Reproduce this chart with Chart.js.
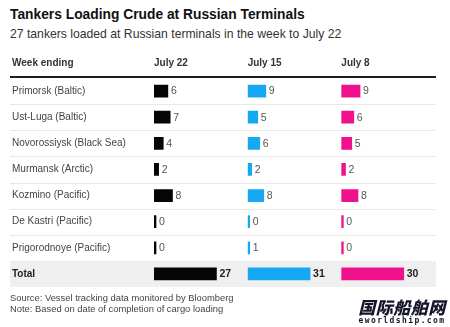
<!DOCTYPE html>
<html>
<head>
<meta charset="utf-8">
<script src="https://cdn.jsdelivr.net/npm/chart.js@4/dist/chart.umd.min.js"></script>
<style>
  html, body { margin: 0; padding: 0; background: #fff; }
  body { width: 450px; height: 327px; position: relative; overflow: hidden;
         font-family: 'Liberation Sans', Arial, sans-serif; }
  .title { position: absolute; left: 10px; top: 7px; font-size: 13.8px; font-weight: bold; color: #111; }
  .subtitle { position: absolute; left: 10px; top: 27px; font-size: 12.2px; color: #333; }
  .wrap { position: absolute; left: 0; top: 44px; width: 450px; height: 249px; }
  .foot { position: absolute; left: 10px; top: 293px; font-size: 9.4px; line-height: 10.5px; color: #444; }
  .mark { position: absolute; left: 356px; top: 297px; width: 92px; text-align: center; color: #14142a; }
  .mark .cn { font-family: 'Noto Sans CJK SC', sans-serif; font-weight: 900; font-size: 17px; line-height: 19px; letter-spacing: 0.5px; font-style: italic; }
  .mark .en { font-family: 'DejaVu Sans Mono', monospace; font-weight: bold; font-size: 8px; line-height: 9px; letter-spacing: 1.4px; }
</style>
</head>
<body>
<div class="title">Tankers Loading Crude at Russian Terminals</div>
<div class="subtitle">27 tankers loaded at Russian terminals in the week to July 22</div>
<div class="wrap"><canvas id="chartTankers"></canvas></div>
<div class="foot">Source: Vessel tracking data monitored by Bloomberg<br>Note: Based on date of completion of cargo loading</div>
<div class="mark"><div class="cn">国际船舶网</div><div class="en">eworldship.com</div></div>

<script>
// ===== データ =====
const terminals = ['Primorsk (Baltic)', 'Ust-Luga (Baltic)', 'Novorossiysk (Black Sea)', 'Murmansk (Arctic)',
                   'Kozmino (Pacific)', 'De Kastri (Pacific)', 'Prigorodnoye (Pacific)', 'Total'];
const weeks = ['July 22', 'July 15', 'July 8'];
const jul22 = [6, 7, 4, 2, 8, 0, 0, 27];
const jul15 = [9, 5, 6, 2, 8, 0, 1, 31];
const jul8  = [9, 6, 5, 2, 8, 0, 0, 30];

const COLORS = ['#050505', '#16a9f2', '#f0128c'];
const FONT = "'Liberation Sans', Arial, sans-serif";
const TOTAL_ROW = terminals.length - 1;

// 行の区切り線・Total 行の背景・ヘッダー下の太線（軸ラベルより先に描く）
const tableLines = {
  id: 'tableLines',
  beforeDraw(chart) {
    const { ctx, chartArea, scales: { y } } = chart;
    const left = 10, right = 436;
    const half = (y.getPixelForValue(1) - y.getPixelForValue(0)) / 2;
    ctx.save();
    // Total 行
    const ty = y.getPixelForValue(TOTAL_ROW);
    ctx.fillStyle = '#efefef';
    ctx.fillRect(left, ty - half, right - left, half * 2);
    // 区切り線
    ctx.strokeStyle = '#e8e8e8';
    ctx.lineWidth = 1;
    for (let i = 0; i < TOTAL_ROW - 1; i++) {
      const py = Math.round(y.getPixelForValue(i) + half) + 0.5;
      ctx.beginPath();
      ctx.moveTo(left, py);
      ctx.lineTo(right, py);
      ctx.stroke();
    }
    // ヘッダー線
    ctx.fillStyle = '#1e1e1e';
    ctx.fillRect(left, chartArea.top - 2, right - left, 2);
    // 見出し
    ctx.font = 'bold 10px ' + FONT;
    ctx.fillStyle = '#333';
    ctx.textBaseline = 'middle';
    ctx.textAlign = 'left';
    ctx.fillText('Week ending', 12, chart.scales.x0.top + 19);
    ctx.restore();
  }
};

// 棒の右に数値
const valueLabels = {
  id: 'valueLabels',
  afterDatasetsDraw(chart) {
    const { ctx } = chart;
    ctx.save();
    ctx.textBaseline = 'middle';
    ctx.textAlign = 'left';
    chart.data.datasets.forEach((ds, di) => {
      chart.getDatasetMeta(di).data.forEach((bar, i) => {
        const isTotal = i === TOTAL_ROW;
        ctx.font = (isTotal ? 'bold ' : '') + '10.5px ' + FONT;
        ctx.fillStyle = isTotal ? '#222' : '#555';
        ctx.fillText(ds.data[i], bar.x + 3, bar.y + 0.5);
      });
    });
    ctx.restore();
  }
};

// 週ごとに独立した横軸（上端に左から並べる）
function weekAxis(i, series) {
  return {
    type: 'linear',
    position: 'top',
    stack: 'weeks',
    stackWeight: 1,
    weight: weeks.length - i,
    min: 0,
    max: Math.max(...series) * 1.5,
    grid: { display: false, drawTicks: false },
    border: { display: false },
    ticks: { display: false },
    title: {
      display: true,
      text: weeks[i],
      align: 'start',
      color: '#333',
      font: { family: FONT, size: 10, weight: 'bold' },
      padding: { top: 13, bottom: 9 }
    },
    afterFit: s => { s.height = 34; }
  };
}

const series = [jul22, jul15, jul8];

new Chart(document.getElementById('chartTankers'), {
  type: 'bar',
  data: {
    labels: terminals,
    datasets: series.map((d, i) => ({
      label: weeks[i],
      data: d,
      xAxisID: 'x' + i,
      backgroundColor: COLORS[i],
      barThickness: 12,
      grouped: false,
      minBarLength: 2,
      borderWidth: 0
    }))
  },
  options: {
    indexAxis: 'y',
    responsive: true,
    maintainAspectRatio: false,
    animation: false,
    layout: { padding: { left: 12, right: 15, top: 0, bottom: 0 } },
    plugins: {
      legend: { display: false },
      tooltip: { enabled: false }
    },
    scales: {
      x0: weekAxis(0, jul22),
      x1: weekAxis(1, jul15),
      x2: weekAxis(2, jul8),
      y: {
        type: 'category',
        position: 'left',
        grid: { display: false, drawTicks: false },
        border: { display: false },
        ticks: {
          crossAlign: 'far',
          padding: 0,
          color: ctx => ctx.index === TOTAL_ROW ? '#222' : '#444',
          font: ctx => ({ family: FONT, size: 10, weight: ctx.index === TOTAL_ROW ? 'bold' : 'normal' })
        },
        afterFit: s => { s.width = 142; }
      }
    }
  },
  plugins: [tableLines, valueLabels]
});
</script>
</body>
</html>
